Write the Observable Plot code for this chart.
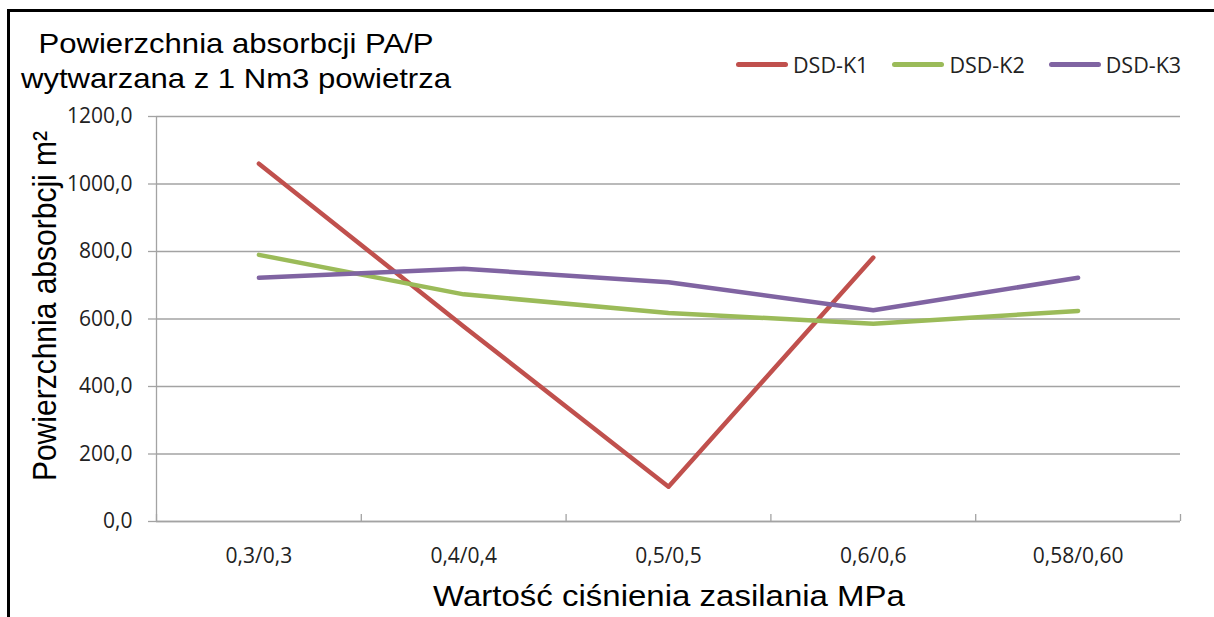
<!DOCTYPE html>
<html>
<head>
<meta charset="utf-8">
<script src="https://cdn.jsdelivr.net/npm/d3@7"></script>
<script src="https://cdn.jsdelivr.net/npm/@observablehq/plot@0.6"></script>
<style>
  html, body { margin: 0; padding: 0; background: #fff; width: 1214px; height: 617px; overflow: hidden; }
  #frame { position: absolute; left: 7px; top: 9px; width: 1300px; height: 700px; border-left: 3px solid #000; border-top: 3px solid #000; }
  #chart { position: absolute; left: 0; top: 0; }
  .title { position: absolute; left: 14px; top: 26px; width: 400px; transform-origin: 0 0; transform: scaleX(1.11);
           font-family: "Liberation Sans", Arial, sans-serif; font-size: 28px; line-height: 35px; text-align: center; color: #000; white-space: nowrap; }
  .xlabel { position: absolute; left: 669px; top: 581px; transform: translateX(-50%) scaleX(1.1);
            font-family: "Liberation Sans", Arial, sans-serif; font-size: 30px; line-height: 30px; color: #000; white-space: nowrap; }
  .ylabel { position: absolute; left: 45px; top: 306px; transform: translate(-50%, -50%) rotate(-90deg) scaleY(1.1);
            font-family: "Liberation Sans", Arial, sans-serif; font-size: 30px; line-height: 30px; color: #000; white-space: nowrap; }
  .legend { position: absolute; left: 736px; top: 50px; display: flex; align-items: center;
            font-family: "Open Sans", sans-serif; font-size: 21.5px; color: #222; }
  .legend .item { display: flex; align-items: center; margin-right: 24px; }
  .legend .sw { width: 52px; height: 4.5px; border-radius: 3px; margin-right: 5px; }
</style>
</head>
<body>
<div id="frame"></div>
<div id="chart"></div>
<div class="title">Powierzchnia absorbcji PA/P<br>wytwarzana z 1 Nm3 powietrza</div>
<div class="ylabel">Powierzchnia absorbcji m²</div>
<div class="xlabel">Wartość ciśnienia zasilania MPa</div>
<div class="legend" id="legend"></div>
<script>
// ---- data ----
const categories = ["0,3/0,3", "0,4/0,4", "0,5/0,5", "0,6/0,6", "0,58/0,60"];
const seriesNames = ["DSD-K1", "DSD-K2", "DSD-K3"];
const seriesColors = ["#C0504D", "#9BBB59", "#8064A2"];
const k1 = [1060, 578, 103, 782, null];
const k2 = [790, 673, 618, 586, 624];
const k3 = [722, 749, 709, 626, 722];
const yTicks = [0, 200, 400, 600, 800, 1000, 1200];

const seriesValues = [k1, k2, k3];
const rows = seriesNames.flatMap((name, s) =>
  seriesValues[s].map((v, i) => ({series: name, x: i + 0.5, value: v})).filter(d => d.value != null)
);
const xBounds = d3.range(categories.length + 1);
const xCenters = categories.map((c, i) => i + 0.5);
const fmt = d => d.toFixed(1).replace(".", ",");
const gridColor = "#a3a3a3";

const chart = Plot.plot({
  width: 1214,
  height: 617,
  marginLeft: 156,
  marginRight: 34,
  marginTop: 116,
  marginBottom: 96,
  style: {fontFamily: "'Open Sans', sans-serif", fontSize: "21px", color: "#222", background: "transparent"},
  x: {type: "linear", domain: [0, categories.length]},
  y: {domain: [0, 1200]},
  color: {domain: seriesNames, range: seriesColors},
  marks: [
    Plot.gridY(yTicks, {stroke: gridColor, strokeOpacity: 1, strokeWidth: 1.3}),
    Plot.axisY(yTicks, {tickSize: 8, tickPadding: 16, tickFormat: fmt, stroke: gridColor, strokeWidth: 1.3, label: null}),
    Plot.ruleX([0], {stroke: gridColor, strokeWidth: 1.3}),
    Plot.ruleY([0], {stroke: gridColor, strokeWidth: 1.3}),
    Plot.axisX(xBounds, {tickSize: 7, dy: -7, tickFormat: () => "", stroke: gridColor, strokeWidth: 1.3, label: null}),
    Plot.axisX(xCenters, {tickSize: 0, tickPadding: 27, tickFormat: v => categories[Math.floor(v)], label: null}),
    Plot.line(rows, {x: "x", y: "value", z: "series", stroke: "series", strokeWidth: 4.5,
                     strokeLinecap: "round", strokeLinejoin: "round"})
  ]
});
document.getElementById("chart").appendChild(chart);

const legend = document.getElementById("legend");
seriesNames.forEach((name, i) => {
  const item = document.createElement("div");
  item.className = "item";
  const sw = document.createElement("div");
  sw.className = "sw";
  sw.style.background = seriesColors[i];
  const label = document.createElement("span");
  label.textContent = name;
  item.appendChild(sw);
  item.appendChild(label);
  legend.appendChild(item);
});
</script>
</body>
</html>
